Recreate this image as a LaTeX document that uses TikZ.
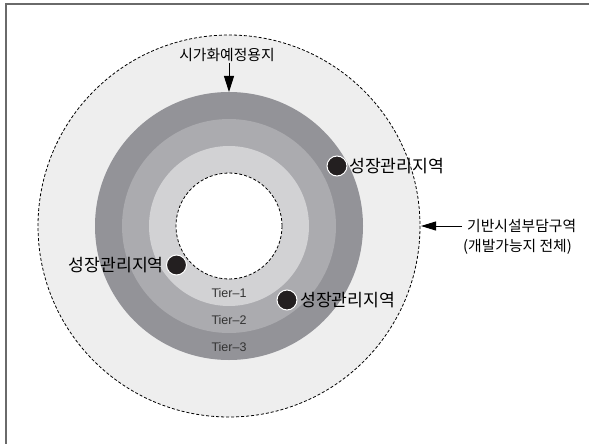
\documentclass[tikz,border=0pt]{standalone}
\usepackage{fontspec}
\setmainfont{Noto Sans CJK KR}
\newfontfamily\tierfont{Liberation Sans}
\usetikzlibrary{arrows.meta}
\definecolor{bgout}{HTML}{EEEEEE}
\definecolor{tierthree}{HTML}{939398}
\definecolor{tiertwo}{HTML}{ABABAF}
\definecolor{tierone}{HTML}{D2D2D4}
\definecolor{dotblack}{HTML}{231F20}
\definecolor{framegray}{HTML}{6A6A6A}
\tikzset{
  kor/.style={inner sep=0pt, font=\fontsize{17.2}{19}\selectfont},
  korsmall/.style={inner sep=0pt, font=\fontsize{14.8}{16}\selectfont},
  tierlbl/.style={inner sep=0pt, text=black!80, font=\tierfont\fontsize{12.5}{14}\selectfont},
  gdot/.style={circle, fill=dotblack, draw=white, line width=1pt, minimum size=20pt, inner sep=0pt},
  pointer/.style={-{Triangle[length=16pt,width=10pt]}, line width=1pt},
  pointerh/.style={-{Triangle[length=15pt,width=9pt]}, line width=1pt},
}
\begin{document}
\begin{tikzpicture}[x=1pt,y=-1pt]
\useasboundingbox (0,0) rectangle (589,444);
% frame (top and left edges visible)
\draw[framegray, line width=1.6pt] (6,444) -- (6,4) -- (589,4);
% circles
\coordinate (c) at (229,226);
\fill[bgout] (c) circle (191);
\draw[dashed, dash pattern=on 3pt off 2pt, line width=0.8pt] (c) circle (191);
\fill[tierthree] (c) circle (134);
\fill[tiertwo] (c) circle (107);
\fill[tierone] (c) circle (80);
\fill[white] (c) circle (53);
\draw[dashed, dash pattern=on 3pt off 2pt, line width=0.8pt] (c) circle (53);
\coordinate (ringtop) at (229,92);
\coordinate (outerright) at (421,226);
% tier labels
\node[tierlbl] (t1) at (229,293) {Tier–1};
\node[tierlbl] (t2) at (229,320) {Tier–2};
\node[tierlbl] (t3) at (229,347) {Tier–3};
% growth management dots
\node[gdot] (d1) at (337,166) {};
\node[gdot] (d2) at (176.5,265) {};
\node[gdot] (d3) at (287,300) {};
\node[kor, anchor=west] (l1) at (349,166) {성장관리지역};
\node[kor, anchor=east] (l2) at (164,265) {성장관리지역};
\node[kor, anchor=west] (l3) at (300,300) {성장관리지역};
% top label and arrow
\node[korsmall] (top) at (227,55) {시가화예정용지};
\draw[pointer] (229,63) -- (ringtop);
% right label and arrow
\node[korsmall, anchor=west] (r1) at (467,226) {기반시설부담구역};
\node[korsmall, anchor=west] (r2) at (463,247) {(개발가능지 전체)};
\draw[pointerh] (r1.west) ++(-5,0) coordinate (rstart) (rstart) -- (outerright);
\end{tikzpicture}
\end{document}
